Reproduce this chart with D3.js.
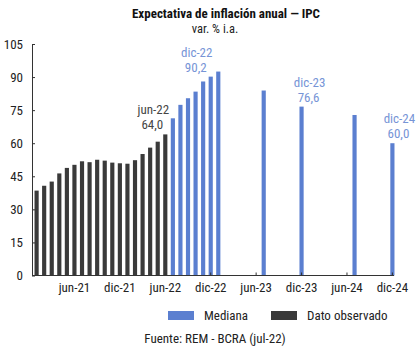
<!DOCTYPE html>
<html>
<head>
<meta charset="utf-8">
<script src="https://cdn.jsdelivr.net/npm/d3@7"></script>
<style>
body { margin: 0; background: #fff; }
svg text { font-family: "Liberation Sans Narrow", "Roboto Condensed", Roboto, sans-serif; }
</style>
</head>
<body>
<script>
var w = 420, h = 348;

// meses ene-21 .. dic-24
var mesesCortos = ["ene","feb","mar","abr","may","jun","jul","ago","sep","oct","nov","dic"];
var meses = [];
for (var a = 21; a <= 24; a++) {
	mesesCortos.forEach(function(m){ meses.push(m + "-" + a); });
}

var observado = [
	{mes:"ene-21", v:38.5},{mes:"feb-21", v:40.7},{mes:"mar-21", v:42.6},{mes:"abr-21", v:46.3},
	{mes:"may-21", v:48.8},{mes:"jun-21", v:50.2},{mes:"jul-21", v:51.8},{mes:"ago-21", v:51.4},
	{mes:"sep-21", v:52.5},{mes:"oct-21", v:52.1},{mes:"nov-21", v:51.2},{mes:"dic-21", v:50.9},
	{mes:"ene-22", v:50.7},{mes:"feb-22", v:52.3},{mes:"mar-22", v:55.1},{mes:"abr-22", v:58.0},
	{mes:"may-22", v:60.7},{mes:"jun-22", v:64.0}
];
var mediana = [
	{mes:"jul-22", v:71.3},{mes:"ago-22", v:77.4},{mes:"sep-22", v:80.4},{mes:"oct-22", v:83.4},
	{mes:"nov-22", v:88.0},{mes:"dic-22", v:90.2},{mes:"ene-23", v:92.5},
	{mes:"jul-23", v:83.9},{mes:"dic-23", v:76.6},{mes:"jul-24", v:72.8},{mes:"dic-24", v:60.0}
];
var etiquetasX = ["jun-21","dic-21","jun-22","dic-22","jun-23","dic-23","jun-24","dic-24"];
var ticksY = [0,15,30,45,60,75,90,105];
var anotaciones = [
	{mes:"jun-22", v:64.0, txt:"64,0", dx:-12, serie:"obs"},
	{mes:"dic-22", v:90.2, txt:"90,2", dx:-14, serie:"med"},
	{mes:"dic-23", v:76.6, txt:"76,6", dx:8, serie:"med"},
	{mes:"dic-24", v:60.0, txt:"60,0", dx:7, serie:"med"}
];

var azul = "#5b7fd0", negro = "#3a3a3a", azulTxt = "#7694d6";

var svg = d3.select("body").append("svg")
	.attr("width", w)
	.attr("height", h);

svg.append("text").attr("x", 226).attr("y", 18)
	.attr("text-anchor","middle").style("font-size","13px").style("font-weight","bold")
	.attr("fill","#111").text("Expectativa de inflación anual — IPC");
svg.append("text").attr("x", 215).attr("y", 33)
	.attr("text-anchor","middle").style("font-size","12.5px")
	.attr("fill","#222").text("var. % i.a.");

var x = d3.scaleBand().domain(meses).range([33, 396]).paddingInner(0.45).paddingOuter(0.2);
var y = d3.scaleLinear().domain([0,105]).range([275.5, 44]);

svg.selectAll("rect.obs").data(observado).enter().append("rect")
	.attr("class","obs")
	.attr("x", function(d){ return x(d.mes); })
	.attr("width", x.bandwidth())
	.attr("y", function(d){ return y(d.v); })
	.attr("height", function(d){ return y(0) - y(d.v); })
	.attr("fill", negro);

svg.selectAll("rect.med").data(mediana).enter().append("rect")
	.attr("class","med")
	.attr("x", function(d){ return x(d.mes); })
	.attr("width", x.bandwidth())
	.attr("y", function(d){ return y(d.v); })
	.attr("height", function(d){ return y(0) - y(d.v); })
	.attr("fill", azul);

var ejeY = svg.append("g").attr("transform","translate(32,0)")
	.call(d3.axisLeft(y).tickValues(ticksY).tickSize(-3).tickSizeOuter(0).tickPadding(9));
var ejeX = svg.append("g").attr("transform","translate(0," + y(0) + ")")
	.call(d3.axisBottom(x).tickValues(etiquetasX).tickSize(-3).tickSizeOuter(0).tickPadding(7));
ejeX.select(".domain").attr("d", "M32,0H394");
[ejeY, ejeX].forEach(function(g){
	g.selectAll("text").style("font-size","13px").attr("fill","#222");
	g.selectAll("line, .domain").attr("stroke","#333");
});

anotaciones.forEach(function(d){
	var cx = x(d.mes) + x.bandwidth()/2 + d.dx;
	var col = d.serie == "obs" ? "#444" : azulTxt;
	svg.append("text").attr("x", cx).attr("y", y(d.v) - 20)
		.attr("text-anchor","middle").style("font-size","13px").attr("fill", col).text(d.mes);
	svg.append("text").attr("x", cx - 1).attr("y", y(d.v) - 5)
		.attr("text-anchor","middle").style("font-size","13px").attr("fill", col).text(d.txt);
});

var leyenda = [{txt:"Mediana", col:azul, x:168}, {txt:"Dato observado", col:negro, x:271}];
var ley = svg.selectAll("g.ley").data(leyenda).enter().append("g")
	.attr("transform", function(d){ return "translate(" + d.x + ",311)"; });
ley.append("rect").attr("width", 26).attr("height", 9).attr("fill", function(d){ return d.col; });
ley.append("text").attr("x", 36).attr("y", 9).style("font-size","13px").attr("fill","#222")
	.text(function(d){ return d.txt; });

svg.append("text").attr("x", 215).attr("y", 343)
	.attr("text-anchor","middle").style("font-size","13px").attr("fill","#222")
	.text("Fuente: REM - BCRA (jul-22)");
</script>
</body>
</html>
